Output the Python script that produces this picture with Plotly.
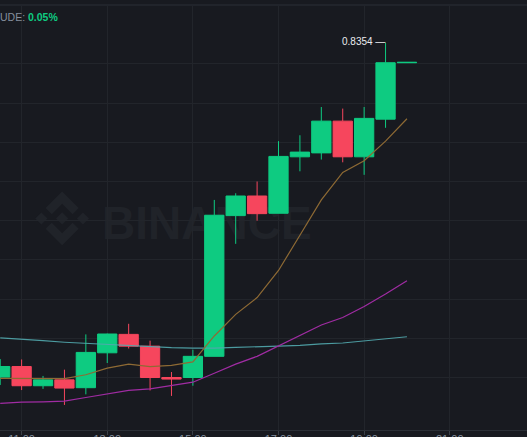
import plotly.graph_objects as go

# ---------------- data ----------------
times = ["2021-01-01 10:30", "2021-01-01 11:00", "2021-01-01 11:30", "2021-01-01 12:00",
         "2021-01-01 12:30", "2021-01-01 13:00", "2021-01-01 13:30", "2021-01-01 14:00",
         "2021-01-01 14:30", "2021-01-01 15:00", "2021-01-01 15:30", "2021-01-01 16:00",
         "2021-01-01 16:30", "2021-01-01 17:00", "2021-01-01 17:30", "2021-01-01 18:00",
         "2021-01-01 18:30", "2021-01-01 19:00", "2021-01-01 19:30", "2021-01-01 20:00"]
open_ = [0.7501, 0.7528, 0.7479, 0.7494, 0.7474, 0.7563, 0.7610, 0.7580, 0.7500, 0.7500,
         0.7554, 0.7913, 0.7963, 0.7919, 0.8063, 0.8073, 0.8154, 0.8063, 0.8159, 0.8303]
high = [0.7547, 0.7546, 0.7504, 0.7520, 0.7610, 0.7612, 0.7637, 0.7594, 0.7514, 0.7571,
        0.7953, 0.7970, 0.8000, 0.8103, 0.8118, 0.8190, 0.8186, 0.8190, 0.8354, 0.8304]
low = [0.7481, 0.7468, 0.7471, 0.7430, 0.7457, 0.7537, 0.7574, 0.7467, 0.7453, 0.7479,
       0.7554, 0.7841, 0.7900, 0.7919, 0.8026, 0.8056, 0.8049, 0.8017, 0.8137, 0.8303]
close = [0.7528, 0.7479, 0.7494, 0.7473, 0.7564, 0.7611, 0.7580, 0.7500, 0.7496, 0.7554,
         0.7914, 0.7963, 0.7918, 0.8064, 0.8075, 0.8154, 0.8063, 0.8161, 0.8303, 0.8304]
ma7 = [0.7498, 0.7498, 0.7497, 0.7497, 0.7507, 0.7524, 0.7534, 0.7528, 0.7531, 0.7540,
       0.7606, 0.7661, 0.7704, 0.7773, 0.7863, 0.7953, 0.8023, 0.8053, 0.8103, 0.8160]
ma25 = [0.7434, 0.7437, 0.7438, 0.7440, 0.7449, 0.7458, 0.7467, 0.7471, 0.7479, 0.7488,
        0.7511, 0.7534, 0.7554, 0.7580, 0.7606, 0.7634, 0.7653, 0.7681, 0.7713, 0.7747]
ma99 = [0.7601, 0.7598, 0.7594, 0.7590, 0.7587, 0.7584, 0.7582, 0.7579, 0.7576, 0.7575,
        0.7575, 0.7577, 0.7578, 0.7580, 0.7582, 0.7586, 0.7588, 0.7593, 0.7598, 0.7604]
grid_prices = [0.75, 0.76, 0.77, 0.78, 0.79, 0.80, 0.81, 0.82, 0.83]
high_label = "0.8354"
header_label = "UDE:"
header_value = "0.05%"
watermark = "BINANCE"

GREEN = "#0ECB81"
RED = "#F6465D"
BG = "#181A20"
GRID = "#22252B"
WM = "#202329"

W, H = 527, 437
TOP, BOTTOM = 6, 430

fig = go.Figure()

fig.add_trace(go.Candlestick(
    x=times, open=open_, high=high, low=low, close=close,
    increasing=dict(line=dict(color=GREEN, width=1), fillcolor=GREEN),
    decreasing=dict(line=dict(color=RED, width=1), fillcolor=RED),
    whiskerwidth=0, hoverinfo="skip"))
fig.add_trace(go.Scatter(x=times, y=ma99, mode="lines", line=dict(color="#52A9AE", width=1.2),
                         opacity=0.9, hoverinfo="skip"))
fig.add_trace(go.Scatter(x=times, y=ma25, mode="lines", line=dict(color="#A02CA3", width=1.2),
                         hoverinfo="skip"))
fig.add_trace(go.Scatter(x=times, y=ma7, mode="lines", line=dict(color="#8E6A34", width=1.2),
                         hoverinfo="skip"))

# ---- watermark logo (Binance), drawn below the traces ----
def px2paper(px, py):
    return px / W, (BOTTOM - py) / (BOTTOM - TOP)

logo_polys = [
    [(38.73, 53.2), (63.3, 28.63), (87.88, 53.21), (102.18, 38.92), (63.3, 0), (24.42, 38.9)],
    [(38.73, 73.41), (63.3, 97.98), (87.88, 73.4), (102.18, 87.69), (63.3, 126.61), (24.42, 87.71)],
    [(0, 63.3), (14.3, 49.0), (28.6, 63.3), (14.3, 77.6)],
    [(98.0, 63.3), (112.3, 49.0), (126.6, 63.3), (112.3, 77.6)],
    [(63.3, 48.76), (77.83, 63.3), (63.3, 77.83), (48.76, 63.3)],
]
lx0, ly0, ls = 35.3, 191.6, 53.7 / 126.6
for poly in logo_polys:
    pts = [px2paper(lx0 + x * ls, ly0 + y * ls) for x, y in poly]
    path = "M " + " L ".join(f"{a:.5f},{b:.5f}" for a, b in pts) + " Z"
    fig.add_shape(type="path", path=path, xref="paper", yref="paper",
                  fillcolor=WM, line=dict(width=0), layer="below")

wx0, wy0 = px2paper(99, 240)
wx1, wy1 = px2paper(320, 197)
fig.add_shape(type="rect", xref="paper", yref="paper", x0=wx0, x1=wx1, y0=wy0, y1=wy1,
              line=dict(width=0), fillcolor="rgba(0,0,0,0)", layer="below",
              label=dict(text=f"<b>{watermark}</b>", textposition="middle left", padding=0,
                         font=dict(family="Liberation Sans, Arial", size=46, color=WM)))

# header separator line
fig.add_shape(type="line", xref="paper", yref="paper", x0=0, x1=1,
              y0=px2paper(0, 5)[1], y1=px2paper(0, 5)[1], line=dict(color="#2B2F36", width=1))

# header text
fig.add_annotation(text=f"{header_label} <span style='color:{GREEN}'><b>{header_value}</b></span>",
                   xref="paper", yref="paper", x=-2 / W, y=px2paper(0, 17)[1],
                   xanchor="left", yanchor="middle", showarrow=False,
                   font=dict(family="Liberation Sans, Arial", size=10.5, color="#848E9C"))

# high marker
fig.add_annotation(text=high_label + " —", x=times[-2], y=high[-2], xref="x", yref="y",
                   xanchor="right", yanchor="middle", xshift=1, yshift=1, showarrow=False,
                   font=dict(family="Liberation Sans, Arial", size=10, color="#EAECEF"))

fig.update_layout(
    width=W, height=H,
    margin=dict(l=0, r=0, t=TOP, b=H - BOTTOM, autoexpand=False),
    paper_bgcolor=BG, plot_bgcolor=BG,
    showlegend=False, boxgap=0.1, boxgroupgap=0,
    xaxis=dict(
        type="date",
        range=["2021-01-01 10:29:42", "2021-01-01 22:48:14"],
        rangeslider=dict(visible=False),
        tickformat="%H:%M", dtick=7200000, tick0="2021-01-01 11:00",
        showgrid=True, gridcolor=GRID, gridwidth=1,
        showline=True, linecolor="#2B2F36", linewidth=1,
        ticks="outside", ticklen=4, tickcolor="#3A3F47",
        ticklabelstandoff=-5,
        tickfont=dict(family="Liberation Sans, Arial", size=11, color="#848E9C"),
        zeroline=False, fixedrange=True, automargin=False,
    ),
    yaxis=dict(
        range=[0.73661, 0.84477],
        tickvals=grid_prices, showticklabels=False,
        showgrid=True, gridcolor=GRID, gridwidth=1,
        zeroline=False, fixedrange=True, automargin=False,
    ),
)

fig.write_html("out.html", config={"displayModeBar": False},
               post_script="document.body.style.margin='0';document.body.style.background='#181A20';")
